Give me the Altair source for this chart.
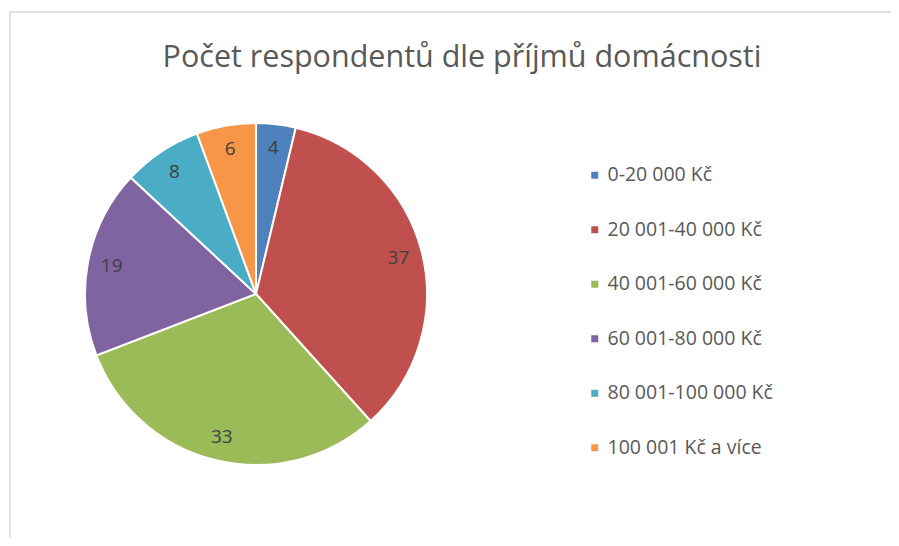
import altair as alt
import pandas as pd

categories = ["0-20 000 Kč", "20 001-40 000 Kč", "40 001-60 000 Kč",
              "60 001-80 000 Kč", "80 001-100 000 Kč", "100 001 Kč a více"]
values = [4, 37, 33, 19, 8, 6]
colors = ["#4F81BD", "#C0504D", "#9BBB59", "#8064A2", "#4BACC6", "#F79646"]
title_text = "Počet respondentů dle příjmů domácnosti"

df = pd.DataFrame({"kat": categories, "pocet": values, "poradi": list(range(len(values)))})

W, H = 883, 530
CX, CY = 248, 286

base = alt.Chart(df).encode(
    theta=alt.Theta("pocet:Q", stack=True),
    order=alt.Order("poradi:Q"),
)

color = alt.Color(
    "kat:N",
    sort=categories,
    scale=alt.Scale(domain=categories, range=colors),
    legend=alt.Legend(
        title=None,
        orient="none",
        legendX=577,
        legendY=157.5,
        symbolType="square",
        symbolSize=49,
        symbolStrokeWidth=0,
        labelFontSize=19.5,
        labelFont="Open Sans",
        labelColor="#595959",
        labelOffset=3,
        rowPadding=33.5,
        padding=0,
        labelLimit=300,
    ),
)

pie = base.mark_arc(radius=171, stroke="white", strokeWidth=2).encode(
    color=color,
    x=alt.value(CX),
    y=alt.value(CY),
)

labels = base.mark_text(radius=147, fontSize=19, font="Open Sans", color="#404040").encode(
    text=alt.Text("pocet:Q"),
    x=alt.value(CX),
    y=alt.value(CY),
)

frame = alt.Chart(pd.DataFrame({"a": [0]})).mark_rect(
    fillOpacity=0, stroke="#d9d9d9", strokeWidth=1.5
).encode(x=alt.value(2), y=alt.value(4), x2=alt.value(1000), y2=alt.value(1000))

title = alt.Chart(pd.DataFrame({"t": [title_text]})).mark_text(
    fontSize=30.5, font="Open Sans", color="#595959", baseline="alphabetic", align="center"
).encode(text="t:N", x=alt.value(454), y=alt.value(59))

chart = alt.layer(frame, pie, labels, title).properties(
    width=W, height=H, autosize=alt.AutoSizeParams(type="none"), padding=0
).configure_view(stroke=None)

chart.save("out.html", embed_options={"renderer": "svg", "actions": False})
